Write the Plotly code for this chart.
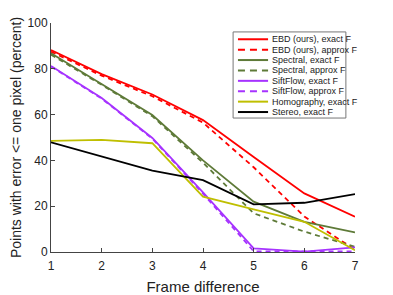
import plotly.graph_objects as go

frames = [1, 2, 3, 4, 5, 6, 7]
ebd_exact = [88.2, 77.7, 68.8, 57.6, 41.5, 25.6, 15.4]
ebd_approx = [87.5, 77.0, 68.0, 56.5, 37.0, 15.5, 1.0]
spectral_exact = [86.8, 73.4, 59.8, 40.0, 22.0, 13.2, 8.6]
spectral_approx = [86.2, 73.0, 59.3, 39.0, 16.9, 8.9, 2.3]
siftflow_exact = [81.2, 67.2, 49.8, 26.0, 1.6, 0.2, 2.0]
siftflow_approx = [81.0, 67.0, 49.5, 25.5, 0.3, 0.3, 0.3]
homography_exact = [48.5, 49.0, 47.5, 24.2, 18.6, 13.2, 0.8]
stereo_exact = [47.9, 41.8, 35.5, 31.4, 20.8, 21.5, 25.3]

y_ticks = [0, 20, 40, 60, 80, 100]

series = [
    ("EBD (ours), exact F", ebd_exact, "#ff0000", "solid"),
    ("EBD (ours), approx F", ebd_approx, "#ff0000", "5px,4px"),
    ("Spectral, exact F", spectral_exact, "#5e7a38", "solid"),
    ("Spectral, approx F", spectral_approx, "#5e7a38", "5px,4px"),
    ("SiftFlow, exact F", siftflow_exact, "#a633ff", "solid"),
    ("SiftFlow, approx F", siftflow_approx, "#a633ff", "5px,4px"),
    ("Homography, exact F", homography_exact, "#bfbf00", "solid"),
    ("Stereo, exact F", stereo_exact, "#000000", "solid"),
]

fig = go.Figure()
for name, vals, color, dash in series:
    fig.add_trace(go.Scatter(
        x=frames, y=vals, name=name, mode="lines",
        line=dict(color=color, width=1.8, dash=dash),
        showlegend=False,
    ))

# custom compact legend (paper coordinates)
lx0, lx1, ly0, ly1 = 0.599, 0.970, 0.585, 0.961
fig.add_shape(type="rect", xref="paper", yref="paper", x0=lx0, x1=lx1, y0=ly0, y1=ly1,
              line=dict(color="#777777", width=1), fillcolor="white", layer="above")
item_top = 0.929
item_step = 0.0454
for i, (name, vals, color, dash) in enumerate(series):
    yy = item_top - i * item_step
    fig.add_shape(type="line", xref="paper", yref="paper", x0=0.615, x1=0.714, y0=yy, y1=yy,
                  line=dict(color=color, width=2, dash="7px,5px" if dash != "solid" else "solid"),
                  layer="above")
    fig.add_annotation(xref="paper", yref="paper", x=0.722, y=yy, text=name,
                       showarrow=False, xanchor="left", yanchor="middle",
                       font=dict(size=9, color="#222222"))

axis_common = dict(
    showgrid=False, zeroline=False, showline=True, linecolor="#444444",
    linewidth=1, ticks="inside", ticklen=4, tickcolor="#444444",
    tickfont=dict(size=12, color="#222222"), automargin=False,
)

# page body has an 8px margin, so the figure is sized/margined to compensate
fig.update_layout(
    width=385, height=287,
    margin=dict(l=43, r=38, t=15, b=43),
    paper_bgcolor="white", plot_bgcolor="white",
    font=dict(family="Liberation Sans, Arial, sans-serif", color="#222222"),
    xaxis=dict(range=[1, 7], tickvals=frames, ticklabelstandoff=3, **axis_common,
               title=dict(text="Frame difference", font=dict(size=15), standoff=9)),
    yaxis=dict(range=[0, 100], tickvals=y_ticks, **axis_common,
               title=dict(text="Points with error <= one pixel (percent)", font=dict(size=14), standoff=4)),
    showlegend=False,
)

fig.write_html("out.html")
